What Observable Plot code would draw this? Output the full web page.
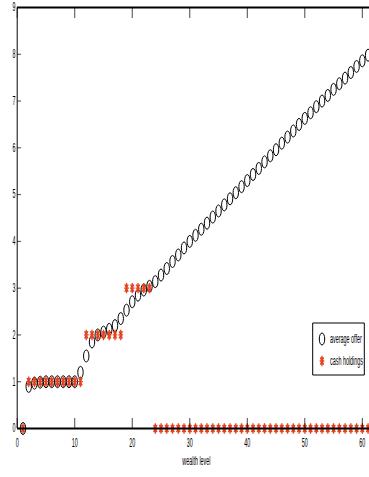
<!DOCTYPE html>
<html><head><meta charset="utf-8">
<script src="https://cdn.jsdelivr.net/npm/d3@7"></script>
<script src="https://cdn.jsdelivr.net/npm/@observablehq/plot@0.6"></script>
<style>
html,body{margin:0;padding:0;background:#fff;overflow:hidden}
#chart svg g[aria-label="dot"] * {vector-effect: non-scaling-stroke;}
#chart .legend * {vector-effect: non-scaling-stroke;}
</style></head><body><div id="chart"></div>
<script>
const wealthLevel = [1,2,3,4,5,6,7,8,9,10,11,12,13,14,15,16,17,18,19,20,21,22,23,24,25,26,27,28,29,30,31,32,33,34,35,36,37,38,39,40,41,42,43,44,45,46,47,48,49,50,51,52,53,54,55,56,57,58,59,60,61];
const averageOffer = [0,0.90,0.97,0.99,1.0,1.0,1.0,1.0,1.0,1.0,1.2,1.55,1.85,2.0,2.06,2.12,2.2,2.35,2.53,2.71,2.85,2.96,3.04,3.14,3.28,3.42,3.57,3.71,3.86,4.0,4.13,4.26,4.39,4.52,4.65,4.78,4.91,5.04,5.17,5.30,5.43,5.56,5.70,5.83,5.96,6.10,6.23,6.36,6.50,6.63,6.75,6.88,7.00,7.12,7.25,7.37,7.49,7.61,7.74,7.86,7.98];
const cashHoldings = [0,1,1,1,1,1,1,1,1,1,1,2,2,2,2,2,2,2,3,3,3,3,3,0,0,0,0,0,0,0,0,0,0,0,0,0,0,0,0,0,0,0,0,0,0,0,0,0,0,0,0,0,0,0,0,0,0,0,0,0,0];
const xTicks = [0,10,20,30,40,50,60];
const yTicks = [0,1,2,3,4,5,6,7,8,9];
const seriesNames = ["average offer","cash holdings"];
const xLabel = "wealth level";

const K = 0.45;              // horizontal squeeze of the original picture
const W = 369, H = 477;
const VW = W / K;

const data = wealthLevel.map((w, i) => ({w, offer: averageOffer[i], cash: cashHoldings[i]}));

const asterisk = {
  draw(context, size) {
    const r = Math.sqrt(size / Math.PI);
    const d = r * 0.7;
    context.moveTo(0, -r); context.lineTo(0, r);
    context.moveTo(-r, 0); context.lineTo(r, 0);
    context.moveTo(-d, -d); context.lineTo(d, d);
    context.moveTo(-d, d); context.lineTo(d, -d);
  }
};
const starColor = "#e5401f";
const font = "'Liberation Sans', Arial, sans-serif";

const plot = Plot.plot({
  width: VW, height: H,
  marginLeft: 17 / K, marginRight: 0, marginTop: 7, marginBottom: 49,
  x: {domain: [0, 61.2], axis: null},
  y: {domain: [0, 9], axis: null},
  style: {fontFamily: font, fontSize: "12px", color: "#000", background: "#fff", overflow: "hidden"},
  marks: [
    Plot.dot(data, {x: "w", y: "offer", r: 6, symbol: "circle", stroke: "#000", strokeWidth: 1, fill: "none"}),
    Plot.dot(data, {x: "w", y: "cash", r: 5.2, symbol: asterisk, stroke: starColor, strokeWidth: 1.3}),
    Plot.ruleX([0], {stroke: "#222", strokeWidth: 2.5}),
    Plot.ruleY([0], {stroke: "#000", strokeWidth: 2}),
    Plot.ruleY([9], {stroke: "#000", strokeWidth: 2}),
    Plot.axisX(xTicks, {anchor: "bottom", tickSize: -10, tickFormat: () => "", label: null}),
    Plot.axisX(xTicks, {anchor: "top", tickSize: -10, tickFormat: () => "", label: null}),
    Plot.axisY(yTicks, {anchor: "left", tickSize: -9, tickFormat: () => "", label: null}),
    Plot.text(xTicks, {x: d => d, text: d => String(d), frameAnchor: "bottom", dy: 15, lineAnchor: "middle", fontSize: 12}),
    Plot.text(yTicks, {y: d => d, text: d => String(d), frameAnchor: "left", dx: -4, textAnchor: "end", lineAnchor: "middle", fontSize: 12}),
    Plot.text([xLabel], {frameAnchor: "bottom", dy: 36, dx: 7, fontSize: 12})
  ]
});

plot.setAttribute("width", W);
plot.setAttribute("height", H);
plot.setAttribute("preserveAspectRatio", "none");
plot.style.width = W + "px";
plot.style.height = H + "px";
plot.style.maxWidth = "none";

// legend (positions in the plot's unsqueezed coordinates)
const svg = d3.select(plot);
const lg = svg.append("g").attr("class", "legend").attr("font-family", font).attr("text-anchor", "start");
lg.append("rect").attr("x", 312.7 / K).attr("y", 323).attr("width", 51.6 / K).attr("height", 52)
  .attr("fill", "#fff").attr("stroke", "#000").attr("stroke-width", 1);
lg.append("circle").attr("cx", 322 / K).attr("cy", 339).attr("r", 6)
  .attr("fill", "none").attr("stroke", "#000").attr("stroke-width", 1);
lg.append("path").attr("transform", `translate(${322 / K},361)`)
  .attr("d", d3.symbol(asterisk, 5.2 * 5.2 * Math.PI)())
  .attr("fill", "none").attr("stroke", starColor).attr("stroke-width", 1.3);
lg.append("text").attr("x", 330 / K).attr("y", 343).attr("font-size", 12).text(seriesNames[0]);
lg.append("text").attr("x", 330 / K).attr("y", 365.5).attr("font-size", 12).text(seriesNames[1]);

document.getElementById("chart").appendChild(plot);
</script></body></html>
